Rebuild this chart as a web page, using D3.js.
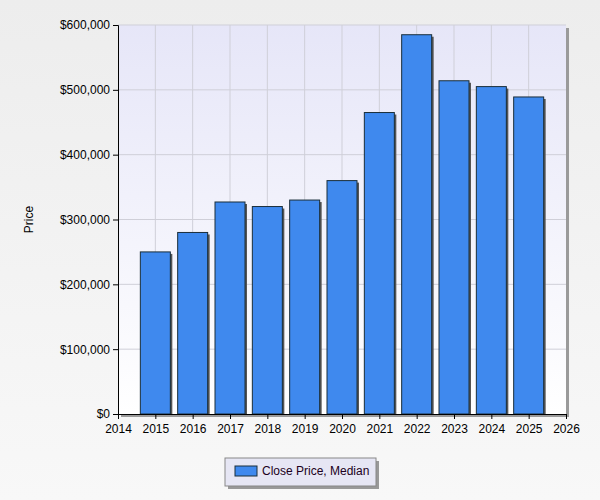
<!DOCTYPE html>
<html><head><meta charset="utf-8">
<script src="https://cdn.jsdelivr.net/npm/d3@7"></script>
<style>body{margin:0;background:#f4f4f4}svg{display:block;font-family:Arial,"Liberation Sans",sans-serif}</style>
</head><body>
<script>
var years = [2015, 2016, 2017, 2018, 2019, 2020, 2021, 2022, 2023, 2024, 2025];
var prices = [250000, 280000, 327000, 320000, 330000, 360000, 465000, 585000, 514000, 505000, 489000];
var seriesName = 'Close Price, Median';

var W = 600, H = 500, pL = 118, pR = 566, pT = 25, pB = 414;
var svg = d3.select('body').append('svg').attr('width', W).attr('height', H);
var defs = svg.append('defs');
var bg = defs.append('linearGradient').attr('id', 'bg').attr('x1', 0).attr('y1', 0).attr('x2', 0).attr('y2', 1);
bg.append('stop').attr('offset', 0).attr('stop-color', '#ededed');
bg.append('stop').attr('offset', 1).attr('stop-color', '#f8f8f8');
var pg = defs.append('linearGradient').attr('id', 'pg').attr('x1', 0).attr('y1', 0).attr('x2', 0).attr('y2', 1);
pg.append('stop').attr('offset', 0).attr('stop-color', '#e6e6f8');
pg.append('stop').attr('offset', 1).attr('stop-color', '#ffffff');

svg.append('rect').attr('width', W).attr('height', H).attr('fill', 'url(#bg)');

var x = d3.scaleLinear().domain([2014, 2026]).range([pL, pR]);
var y = d3.scaleLinear().domain([0, 600000]).range([pB, pT]);

// plot frame shadow + area
svg.append('rect').attr('x', pL + 3).attr('y', pT + 3).attr('width', pR - pL).attr('height', pB - pT).attr('fill', '#9a9a9a');
svg.append('rect').attr('x', pL).attr('y', pT).attr('width', pR - pL).attr('height', pB - pT).attr('fill', 'url(#pg)');

var g = svg.append('g');
g.selectAll('.vg').data(d3.range(2015, 2026)).enter().append('line')
  .attr('x1', d => x(d)).attr('x2', d => x(d)).attr('y1', pT).attr('y2', pB).attr('stroke', '#cfcfd8');
g.selectAll('.hg').data(y.ticks(6).slice(1)).enter().append('line')
  .attr('x1', pL).attr('x2', pR).attr('y1', d => y(d)).attr('y2', d => y(d)).attr('stroke', '#cfcfd8');

var bw = 30;
g.selectAll('.sh').data(years).enter().append('rect')
  .attr('x', (d) => x(d) - bw / 2 + 2).attr('y', (d, i) => y(prices[i]) + 2)
  .attr('width', bw).attr('height', (d, i) => pB - y(prices[i]) - 2).attr('fill', '#555');
g.selectAll('.bar').data(years).enter().append('rect')
  .attr('x', (d) => x(d) - bw / 2).attr('y', (d, i) => y(prices[i]))
  .attr('width', bw).attr('height', (d, i) => pB - y(prices[i]))
  .attr('fill', '#3f89ee').attr('stroke', '#1a2e3a').attr('stroke-width', 1);

svg.append('g').attr('transform', 'translate(0,' + pB + ')')
  .call(d3.axisBottom(x).tickValues(d3.range(2014, 2027)).tickFormat(d3.format('d')).tickSizeOuter(0).tickSize(5))
  .call(a => a.selectAll('text').attr('fill', '#000').attr('font-size', 12).attr('dy', '0.9em'))
  .call(a => a.selectAll('line,path').attr('stroke', '#000'));
svg.append('g').attr('transform', 'translate(' + pL + ',0)')
  .call(d3.axisLeft(y).ticks(6).tickFormat(d => '$' + d3.format(',')(d)).tickSizeOuter(0).tickSize(5))
  .call(a => a.selectAll('text').attr('fill', '#000').attr('font-size', 12))
  .call(a => a.selectAll('line,path').attr('stroke', '#000'));

svg.append('text').attr('transform', 'translate(33,' + ((pT + pB) / 2) + ') rotate(-90)')
  .attr('text-anchor', 'middle').attr('font-size', 12).text('Price');

// legend
var lg = svg.append('g').attr('transform', 'translate(225,458)');
lg.append('rect').attr('x', 3).attr('y', 3).attr('width', 151).attr('height', 28).attr('fill', '#999');
lg.append('rect').attr('width', 151).attr('height', 28).attr('fill', '#e6e6f4').attr('stroke', '#888');
lg.append('rect').attr('x', 10).attr('y', 8).attr('width', 22).attr('height', 10).attr('fill', '#3f89ee').attr('stroke', '#1a2e3a');
lg.append('text').attr('x', 37).attr('y', 17).attr('font-size', 12).attr('fill', '#200020').text(seriesName);
</script>
</body></html>
